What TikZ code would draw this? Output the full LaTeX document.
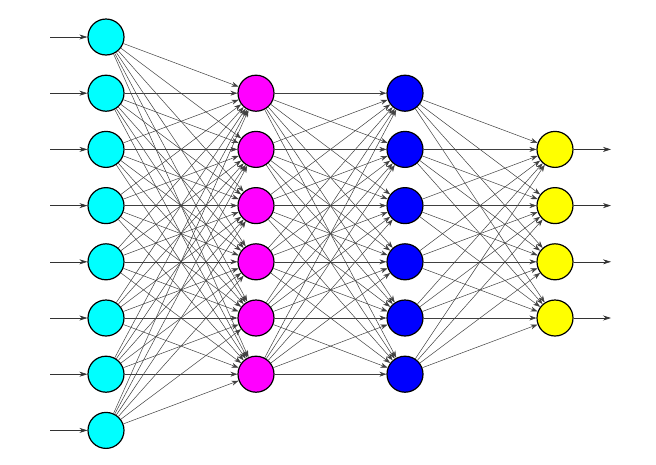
\documentclass[tikz,border=0pt]{standalone}
\usetikzlibrary{arrows.meta}
\definecolor{ncyan}{RGB}{0,255,255}
\definecolor{nmagenta}{RGB}{255,0,255}
\definecolor{nblue}{RGB}{0,0,255}
\definecolor{nyellow}{RGB}{255,255,0}
\begin{document}
\begin{tikzpicture}[x=1pt,y=-1pt,
  neuron/.style={circle,draw=black,line width=1.2pt,inner sep=0pt,minimum size=36pt},
  inlayer/.style={neuron,fill=ncyan},
  hidone/.style={neuron,fill=nmagenta},
  hidtwo/.style={neuron,fill=nblue},
  outlayer/.style={neuron,fill=nyellow},
  conn/.style={draw=black!75,line width=0.5pt,-{Stealth[length=7pt,width=5pt]}},
  ioarrow/.style={draw=black!80,line width=0.6pt,-{Stealth[length=8pt,width=5pt]}}]
\useasboundingbox (0,0) rectangle (656,464);
\foreach \i in {1,...,8} {
  \node[inlayer] (I\i) at (106,{37+56.2*(\i-1)}) {};
  \coordinate (S\i) at (50,{37+56.2*(\i-1)});
  \draw[ioarrow] (S\i) -- (I\i);
}
\foreach \i in {1,...,6} {
  \node[hidone] (A\i) at (256,{37+56.2*\i}) {};
  \node[hidtwo] (B\i) at (405,{37+56.2*\i}) {};
}
\foreach \i in {1,...,4} {
  \node[outlayer] (O\i) at (555,{37+56.2*(\i+1)}) {};
  \coordinate (E\i) at (611,{37+56.2*(\i+1)});
  \draw[ioarrow] (O\i) -- (E\i);
}
\foreach \i in {1,...,8} \foreach \j in {1,...,6} \draw[conn] (I\i) -- (A\j);
\foreach \i in {1,...,6} \foreach \j in {1,...,6} \draw[conn] (A\i) -- (B\j);
\foreach \i in {1,...,6} \foreach \j in {1,...,4} \draw[conn] (B\i) -- (O\j);
\end{tikzpicture}
\end{document}
